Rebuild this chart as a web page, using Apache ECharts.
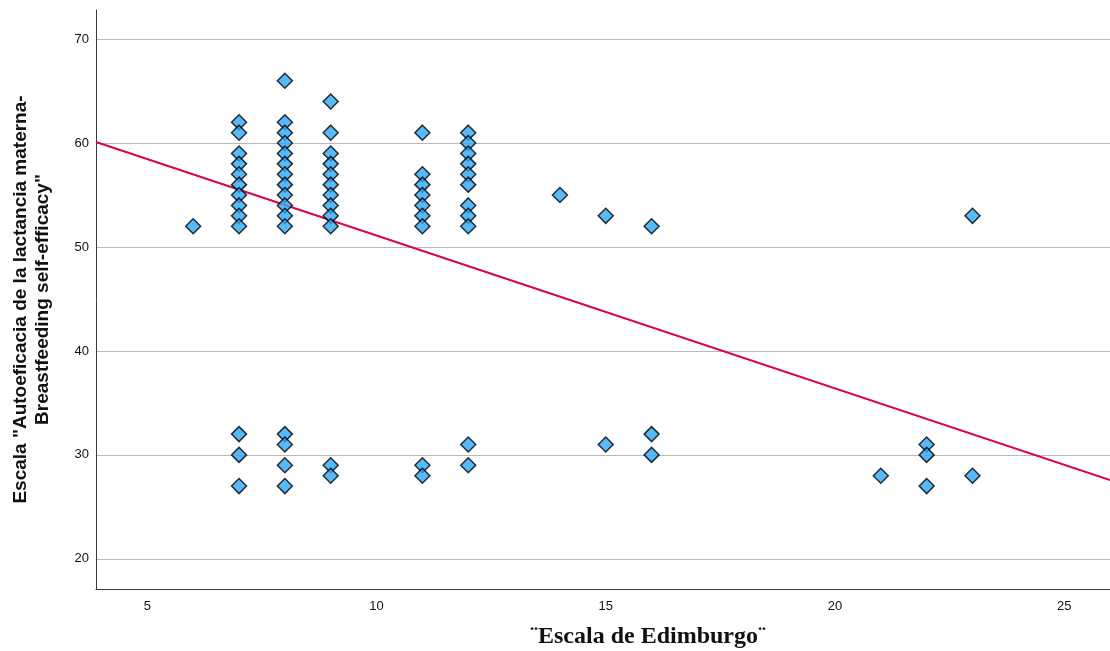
<!DOCTYPE html>
<html>
<head>
<meta charset="utf-8">
<script src="https://cdn.jsdelivr.net/npm/echarts@6/dist/echarts.min.js"></script>
<style>html,body{margin:0;padding:0;background:#fff}#c{width:1110px;height:651px}</style>
</head>
<body>
<div id="c"></div>
<script>
// Edinburgh scale values (x) and breastfeeding self-efficacy scores (y) at each x
var xGroups = [6, 7, 8, 9, 11, 12, 14, 15, 16, 21, 22, 23];
var g6  = [52];
var g7  = [62, 61, 59, 58, 57, 56, 55, 54, 53, 52, 32, 30, 27];
var g8  = [66, 62, 61, 60, 59, 58, 57, 56, 55, 54, 53, 52, 32, 31, 29, 27];
var g9  = [64, 61, 59, 58, 57, 56, 55, 54, 53, 52, 29, 28];
var g11 = [61, 57, 56, 55, 54, 53, 52, 29, 28];
var g12 = [61, 60, 59, 58, 57, 56, 54, 53, 52, 31, 29];
var g14 = [55];
var g15 = [53, 31];
var g16 = [52, 32, 30];
var g21 = [28];
var g22 = [31, 30, 27];
var g23 = [53, 28];
var yGroups = [g6, g7, g8, g9, g11, g12, g14, g15, g16, g21, g22, g23];

// fit line: y = intercept + slope * x
var fitLine = { intercept: 65.8, slope: -1.47 };

var xTickLabels = [5, 10, 15, 20, 25];
var yTickLabels = [20, 30, 40, 50, 60, 70];
var xRange = [3.88, 26];
var yRange = [17.1, 72.8];

var points = [];
xGroups.forEach(function (x, i) {
  yGroups[i].forEach(function (y) { points.push([x, y]); });
});
var linePts = xRange.map(function (x) { return [x, fitLine.intercept + fitLine.slope * x]; });

var chart = echarts.init(document.getElementById('c'), null, { renderer: 'canvas' });
chart.setOption({
  animation: false,
  backgroundColor: '#ffffff',
  grid: { left: 96, right: 0, top: 10, bottom: 62, containLabel: false, outerBoundsMode: 'none' },
  xAxis: {
    type: 'value',
    min: xRange[0], max: xRange[1],
    splitNumber: 5,
    axisLine: { show: true, onZero: false, lineStyle: { color: '#3a3a3a', width: 1 } },
    axisTick: { show: false },
    splitLine: { show: false },
    axisLabel: {
      color: '#111', fontFamily: 'Liberation Sans, Arial', fontSize: 13, margin: 11,
      showMinLabel: true, showMaxLabel: true,
      formatter: function (v) { return xTickLabels.indexOf(Math.round(v * 1000) / 1000) >= 0 ? String(v) : ''; }
    }
  },
  yAxis: {
    type: 'value',
    min: yRange[0], max: yRange[1],
    splitNumber: 5,
    axisLine: { show: true, onZero: false, lineStyle: { color: '#3a3a3a', width: 1 } },
    axisTick: { show: false },
    splitLine: { show: true, showMinLine: false, showMaxLine: false, lineStyle: { color: '#b9b9b9', width: 1 } },
    axisLabel: {
      color: '#111', fontFamily: 'Liberation Sans, Arial', fontSize: 13, margin: 7,
      formatter: function (v) { return yTickLabels.indexOf(Math.round(v * 1000) / 1000) >= 0 ? String(v) : ''; }
    },
    name: 'Escala "Autoeficacia de la lactancia materna-\nBreastfeeding self-efficacy"',
    nameLocation: 'middle',
    nameRotate: 90,
    nameGap: 42,
    nameTextStyle: { fontFamily: 'Liberation Sans, Arial', fontWeight: 'bold', fontSize: 19, color: '#111', lineHeight: 22, align: 'center' }
  },
  graphic: [{
    type: 'text',
    left: 530, top: 625,
    style: { text: '¨Escala de Edimburgo¨', font: 'bold 24px "Liberation Serif", "Times New Roman", serif', fill: '#111' }
  }],
  series: [
    {
      type: 'line',
      data: linePts,
      showSymbol: false,
      symbol: 'none',
      lineStyle: { color: '#d4083e', width: 2 },
      z: 2,
      silent: true
    },
    {
      type: 'scatter',
      data: points,
      symbol: 'diamond',
      symbolSize: 15,
      itemStyle: { color: '#2ea8f7', borderColor: '#000', borderWidth: 1.5 },
      z: 3
    }
  ]
});
</script>
</body>
</html>
